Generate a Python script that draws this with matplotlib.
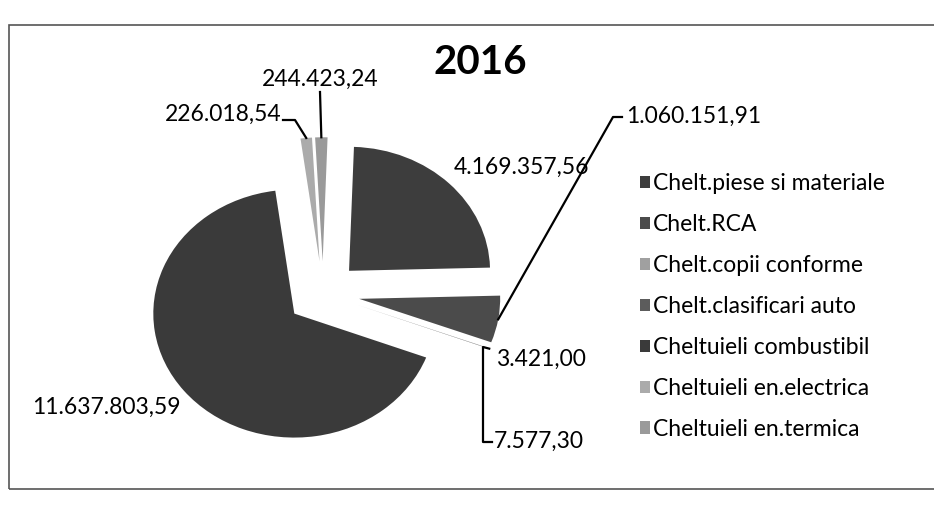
import numpy as np
import matplotlib.pyplot as plt
from matplotlib.patches import Rectangle

plt.rcParams['font.family'] = ['Lato', 'DejaVu Sans']

categories = ['Chelt.piese si materiale', 'Chelt.RCA', 'Chelt.copii conforme',
              'Chelt.clasificari auto', 'Cheltuieli combustibil',
              'Cheltuieli en.electrica', 'Cheltuieli en.termica']
values = [4169357.56, 1060151.91, 3421.00, 7577.30, 11637803.59, 226018.54, 244423.24]
colors = ['#3d3d3d', '#4b4b4b', '#a0a0a0', '#5c5c5c', '#3a3a3a', '#ababab', '#9a9a9a']
title = '2016'


def ro_fmt(v):
    # 1,234.56 -> 1.234,56
    return format(v, ',.2f').replace(',', 'X').replace('.', ',').replace('X', '.')


W, H = 934, 514
cx, cy = 323, 293.5      # pie centre in pixels
rx, ry = 141, 124        # pie radius in pixels (scan is a bit stretched)


def px(x, y):
    return ((x - cx) / rx, (cy - y) / ry)


fig = plt.figure(figsize=(W / 100, H / 100), dpi=100)
ax = fig.add_axes([0, 0, 1, 1])

wedges, _ = ax.pie(values, colors=colors, explode=[0.26] * len(values),
                   startangle=88, counterclock=False, radius=1, center=(0, 0),
                   wedgeprops=dict(linewidth=0))
ax.set_aspect('auto')
ax.set_xlim(-cx / rx, (W - cx) / rx)
ax.set_ylim(-(H - cy) / ry, cy / ry)
ax.axis('off')


def outer(w):
    t = np.deg2rad((w.theta1 + w.theta2) / 2)
    return (w.center[0] + w.r * np.cos(t), w.center[1] + w.r * np.sin(t))


lbl = dict(fontsize=16.5, color='black')
lc = dict(color='black', lw=1.6)

# piese si materiale
ax.text(*px(521, 167), ro_fmt(values[0]), ha='center', va='center', **lbl)

# RCA
a = outer(wedges[1])
p1, p2 = px(613, 117), px(622, 117)
ax.plot([a[0], p1[0], p2[0]], [a[1], p1[1], p2[1]], **lc)
ax.text(*px(626, 116), ro_fmt(values[1]), ha='left', va='center', **lbl)

# copii conforme + clasificari auto
a = outer(wedges[3])
p1, p2, p3 = px(483, 347), px(483, 442), px(492, 442)
ax.plot([a[0], p1[0], p2[0], p3[0]], [a[1], p1[1], p2[1], p3[1]], **lc)
ax.text(*px(496, 359), ro_fmt(values[2]), ha='left', va='center', **lbl)
ax.text(*px(494, 441), ro_fmt(values[3]), ha='left', va='center', **lbl)

# combustibil
ax.text(*px(106, 407), ro_fmt(values[4]), ha='center', va='center', **lbl)

# en.electrica
a = outer(wedges[5])
p1, p2 = px(295, 120), px(283, 120)
ax.plot([a[0], p1[0], p2[0]], [a[1], p1[1], p2[1]], **lc)
ax.text(*px(281, 114), ro_fmt(values[5]), ha='right', va='center', **lbl)

# en.termica
a = outer(wedges[6])
p1 = px(320, 92)
ax.plot([a[0], p1[0]], [a[1], p1[1]], **lc)
ax.text(*px(320, 79), ro_fmt(values[6]), ha='center', va='center', **lbl)

ax.text(*px(480, 63), title, ha='center', va='center', fontsize=29,
        fontweight='bold', color='black')

fig.legend(wedges, categories, loc='upper left', bbox_to_anchor=(631 / W, 1 - 164 / H),
           frameon=False, fontsize=16.5, handlelength=0.45, handleheight=0.45,
           handletextpad=0.12, labelspacing=0.87, borderaxespad=0)

fig.add_artist(Rectangle((9 / W, 1 - 489 / H), (W + 20) / W, (489 - 25) / H,
                         transform=fig.transFigure, fill=False,
                         edgecolor='#555555', lw=1.2))

fig.savefig('out.png', dpi=100)
